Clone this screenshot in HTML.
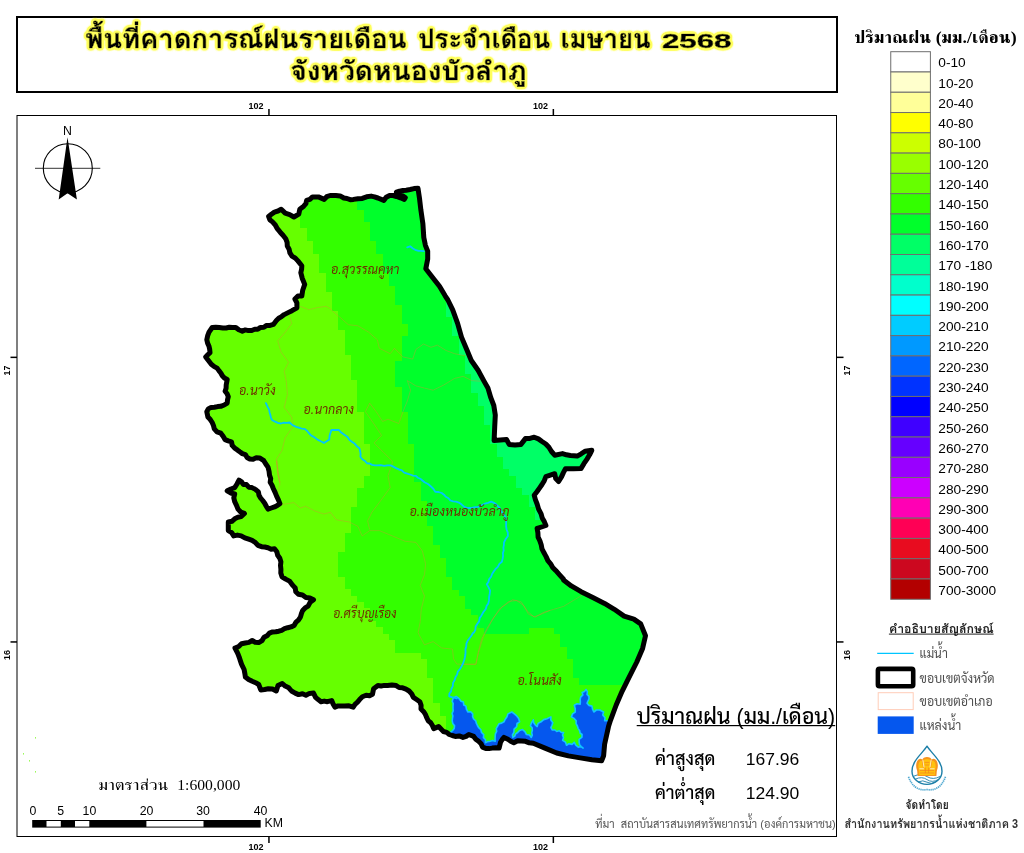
<!DOCTYPE html>
<html lang="th"><head><meta charset="utf-8"><title>พื้นที่คาดการณ์ฝนรายเดือน จังหวัดหนองบัวลำภู</title>
<style>
html,body{margin:0;padding:0;background:#fff}
body{width:1024px;height:853px;overflow:hidden;position:relative}
svg{position:absolute;left:0;top:0;display:block}
text{white-space:pre}
.a{font-family:"Liberation Sans", "Loma", "Noto Sans Thai Looped", sans-serif}
.l{font-family:"Liberation Sans", "Sarabun", "Noto Sans Thai", sans-serif}
.s{font-family:"Liberation Serif", "FreeSerif", "Noto Serif Thai", serif}
.ttl{font-weight:bold;font-size:25.8px;fill:#000;stroke:#000;stroke-width:.55px;stroke-linejoin:round;filter:url(#glow)}
.lg{font-size:13.7px;fill:#000}
.tk{font-size:9px;font-weight:bold;fill:#000}
.d{font-style:italic;font-weight:400;font-size:12.8px;fill:#6e2c00}
</style></head><body>
<svg width="1024" height="853" viewBox="0 0 1024 853">
<rect width="1024" height="853" fill="#fff"/>
<defs><filter id="glow" x="-5%" y="-40%" width="110%" height="180%"><feGaussianBlur in="SourceAlpha" stdDeviation="1.5" result="d"/><feComponentTransfer in="d" result="b"><feFuncA type="linear" slope="14" intercept="0"/></feComponentTransfer><feFlood flood-color="#FFFF5C" result="c"/><feComposite in="c" in2="b" operator="in" result="g"/><feMerge><feMergeNode in="g"/><feMergeNode in="SourceGraphic"/></feMerge></filter></defs>
<rect x="17" y="17" width="820" height="75" fill="#fff" stroke="#000" stroke-width="2"/>
<text class="a ttl" y="48.3"><tspan x="85.3" textLength="321.2" lengthAdjust="spacingAndGlyphs">พื้นที่คาดการณ์ฝนรายเดือน</tspan> <tspan x="418.3" textLength="131.8" lengthAdjust="spacingAndGlyphs">ประจำเดือน</tspan> <tspan x="560.7" textLength="90" lengthAdjust="spacingAndGlyphs">เมษายน</tspan> <tspan x="662" style="font-size:20.4px" textLength="69.4" lengthAdjust="spacingAndGlyphs">2568</tspan></text>
<text class="a ttl" x="290.2" y="80.2" textLength="236.4" lengthAdjust="spacingAndGlyphs">จังหวัดหนองบัวลำภู</text>
<rect x="17" y="115.5" width="819.5" height="721" fill="#fff" stroke="#000" stroke-width="1"/>
<rect x="268.2" y="109" width="1.5" height="6.5" fill="#000"/>
<rect x="268.2" y="836.5" width="1.5" height="6.5" fill="#000"/>
<text class="a tk" x="248.6" y="108.5">102</text>
<text class="a tk" x="248.6" y="850.2">102</text>
<rect x="552.6" y="109" width="1.5" height="6.5" fill="#000"/>
<rect x="552.6" y="836.5" width="1.5" height="6.5" fill="#000"/>
<text class="a tk" x="533.0" y="108.5">102</text>
<text class="a tk" x="533.0" y="850.2">102</text>
<rect x="10.5" y="356.6" width="6.5" height="1.5" fill="#000"/>
<rect x="836.5" y="356.6" width="7" height="1.5" fill="#000"/>
<text class="a tk" transform="translate(10 375.4) rotate(-90)">17</text>
<text class="a tk" transform="translate(850 375.4) rotate(-90)">17</text>
<rect x="10.5" y="641.2" width="6.5" height="1.5" fill="#000"/>
<rect x="836.5" y="641.2" width="7" height="1.5" fill="#000"/>
<text class="a tk" transform="translate(10 660.0) rotate(-90)">16</text>
<text class="a tk" transform="translate(850 660.0) rotate(-90)">16</text>
<defs><clipPath id="prov"><path d="M257.8 329.3L266.6 325.4L273.4 324.4L276.4 320.5L284.2 314.6L292.0 310.7L296.9 307.8L296.9 302.9L294.9 299.0L297.9 296.1L301.8 296.1L302.7 290.2L304.7 284.4L302.3 278.5L300.8 272.7L301.8 265.8L297.9 260.9L292.0 256.1L289.1 249.2L287.1 242.4L283.2 235.5L277.3 228.7L272.5 221.9L268.6 216.4L274.4 212.1L281.2 209.2L285.2 213.1L293.9 217.0L298.8 214.1L299.8 209.2L303.7 206.2L306.6 200.4L312.5 196.9L318.4 196.9L324.2 199.4L330.1 195.5L335.9 195.5L343.8 198.0L353.5 199.4L362.3 198.4L371.1 196.1L377.9 198.0L383.8 200.4L389.6 195.5L396.5 196.5L404.3 199.4L405.3 197.5L396.5 192.2L406.2 190.2L418.0 188.3L419.5 198.4L420.9 210.2L422.9 223.8L423.8 237.5L425.4 245.3L427.7 251.2L427.7 259.0L425.8 268.8L432.6 277.5L439.5 286.3L445.3 296.1L447.9 300.0L452.7 309.8L457.6 323.4L461.5 337.1L466.4 348.8L471.3 360.5L478.1 370.3L484.0 381.1L487.9 387.9L490.8 397.7L493.8 405.5L495.3 415.2L494.7 427.0L494.1 440.6L506.5 439.5L509.2 444.4L520.9 444.4L525.4 438.6L534.2 437.2L542.0 441.5L548.9 447.3L554.7 455.2L562.5 453.6L570.4 455.5L577.2 456.1L585.0 451.2L591.8 450.3L587.0 459.1L581.1 468.4L573.3 468.8L565.5 468.8L561.6 476.6L558.6 481.5L555.7 478.6L554.7 473.7L545.9 476.6L542.0 484.5L534.2 495.2L537.1 504.0L541.1 513.8L545.9 525.5L537.1 528.4L538.1 537.2L542.0 548.9L547.9 560.6L555.7 570.4L563.5 579.2L563.5 580.0L571.3 585.9L581.1 591.7L592.8 597.6L604.5 603.4L614.3 609.3L624.1 616.1L633.8 619.1L640.7 623.9L645.5 635.7L642.6 648.4L636.8 662.0L628.9 677.7L622.1 691.3L616.2 705.0L610.4 720.6L608.5 726.6L604.6 744.2L603.6 755.9L601.6 760.8L591.9 759.8L580.2 757.9L568.4 755.9L556.7 753.0L545.0 748.1L533.3 743.2L525.5 741.3L517.7 740.7L513.8 742.7L507.9 739.3L504.0 737.4L500.5 742.3L499.1 748.1L492.3 748.1L482.5 747.1L478.6 741.3L473.7 736.4L468.8 734.5L463.0 737.4L455.2 736.4L449.3 734.5L443.4 731.5L438.6 726.6L433.7 728.6L430.7 722.7L426.8 717.9L423.9 712.0L421.0 709.1L419.8 701.7L413.4 697.4L409.1 691.0L402.6 687.8L396.2 685.6L387.6 685.6L377.9 685.6L373.6 688.8L372.5 694.2L366.1 695.3L359.6 699.6L353.2 707.1L344.6 706.0L334.9 707.1L331.7 700.6L327.4 701.7L321.0 701.7L315.6 697.4L313.5 693.1L305.9 695.3L295.2 693.1L288.8 687.8L282.3 683.5L278.0 685.6L276.3 691.0L268.3 688.8L260.8 689.9L258.7 684.5L252.2 681.3L245.4 677.0L244.1 669.5L240.4 660.9L237.2 652.3L235.0 648.0L241.5 643.7L252.2 640.5L258.7 642.6L264.0 637.3L272.6 631.9L284.5 628.7L294.1 625.4L298.4 620.1L302.7 610.4L308.1 606.1L313.5 599.7L305.9 597.5L298.4 594.3L292.8 585.4L289.5 581.1L282.0 576.8L280.9 569.2L280.9 561.7L277.7 555.3L274.5 548.8L268.0 547.8L261.6 546.7L255.2 542.4L248.7 539.2L241.2 535.9L233.7 535.9L228.3 530.6L228.3 522.0L234.7 518.8L241.2 516.6L244.4 513.4L238.0 509.1L234.7 501.6L234.7 494.0L227.2 490.8L234.7 487.6L239.0 480.1L243.3 484.4L251.9 487.6L258.4 491.9L262.7 500.5L268.0 509.1L274.5 506.9L279.9 503.7L276.6 496.2L273.4 488.7L270.2 482.2L269.1 471.5L268.0 467.2L263.8 460.7L259.5 457.9L249.8 459.0L242.3 453.6L234.7 448.2L231.5 441.8L225.1 439.6L220.8 433.2L214.3 428.9L212.2 422.5L207.9 417.1L206.8 411.7L211.1 407.4L220.8 406.3L227.2 403.1L228.3 396.7L225.1 391.3L226.2 384.9L227.2 379.5L220.8 373.0L214.3 366.6L209.0 361.2L205.7 356.9L210.0 352.6L209.0 346.2L206.8 339.7L209.0 332.2L212.2 327.5L222.9 327.9L235.8 327.5L242.3 331.2Z"/></clipPath></defs>
<g clip-path="url(#prov)" shape-rendering="crispEdges">
<rect x="190" y="170" width="480" height="610" fill="#33FF00"/>
<path fill="#66FF00" d="M199.1 171.3H300.4V178.0H199.1ZM199.1 177.7H300.4V184.3H199.1ZM199.1 184.0H300.4V190.6H199.1ZM199.1 190.3H300.4V197.0H199.1ZM199.1 196.7H300.4V203.3H199.1ZM199.1 203.0H300.4V209.6H199.1ZM199.1 209.3H300.4V216.0H199.1ZM199.1 215.7H300.4V222.3H199.1ZM199.1 222.0H300.4V228.6H199.1ZM199.1 228.3H306.8V235.0H199.1ZM199.1 234.7H306.8V241.3H199.1ZM199.1 241.0H313.1V247.6H199.1ZM199.1 247.3H313.1V254.0H199.1ZM199.1 253.7H319.4V260.3H199.1ZM199.1 260.0H319.4V266.6H199.1ZM199.1 266.3H319.4V273.0H199.1ZM199.1 272.7H325.8V279.3H199.1ZM199.1 279.0H325.8V285.6H199.1ZM199.1 285.3H325.8V292.0H199.1ZM199.1 291.7H332.1V298.3H199.1ZM199.1 298.0H332.1V304.6H199.1ZM199.1 304.3H332.1V311.0H199.1ZM199.1 310.7H338.4V317.3H199.1ZM199.1 317.0H338.4V323.6H199.1ZM199.1 323.3H338.4V330.0H199.1ZM199.1 329.7H344.8V336.3H199.1ZM199.1 336.0H344.8V342.6H199.1ZM199.1 342.3H344.8V349.0H199.1ZM199.1 348.7H344.8V355.3H199.1ZM199.1 355.0H351.1V361.6H199.1ZM199.1 361.3H351.1V368.0H199.1ZM199.1 367.7H351.1V374.3H199.1ZM199.1 374.0H351.1V380.6H199.1ZM199.1 380.3H357.4V387.0H199.1ZM199.1 386.7H357.4V393.3H199.1ZM199.1 393.0H357.4V399.6H199.1ZM199.1 399.3H357.4V406.0H199.1ZM199.1 405.7H357.4V412.3H199.1ZM199.1 412.0H363.8V418.6H199.1ZM199.1 418.3H363.8V425.0H199.1ZM199.1 424.7H363.8V431.3H199.1ZM199.1 431.0H363.8V437.6H199.1ZM199.1 437.3H363.8V444.0H199.1ZM199.1 443.7H370.1V450.3H199.1ZM199.1 450.0H370.1V456.6H199.1ZM199.1 456.3H370.1V463.0H199.1ZM199.1 462.7H370.1V469.3H199.1ZM199.1 469.0H370.1V475.6H199.1ZM199.1 475.3H363.8V482.0H199.1ZM199.1 481.7H363.8V488.3H199.1ZM199.1 488.0H357.4V494.7H199.1ZM199.1 494.4H357.4V501.0H199.1ZM199.1 500.7H357.4V507.3H199.1ZM199.1 507.0H351.1V513.7H199.1ZM199.1 513.4H351.1V520.0H199.1ZM199.1 519.7H351.1V526.3H199.1ZM199.1 526.0H351.1V532.7H199.1ZM199.1 532.4H344.8V539.0H199.1ZM199.1 538.7H344.8V545.3H199.1ZM199.1 545.0H344.8V551.7H199.1ZM199.1 551.4H338.4V558.0H199.1ZM199.1 557.7H338.4V564.3H199.1ZM199.1 564.0H338.4V570.7H199.1ZM199.1 570.4H338.4V577.0H199.1ZM199.1 576.7H344.8V583.3H199.1ZM199.1 583.0H344.8V589.7H199.1ZM199.1 589.4H351.1V596.0H199.1ZM199.1 595.7H357.4V602.3H199.1ZM199.1 602.0H363.8V608.7H199.1ZM199.1 608.4H370.1V615.0H199.1ZM199.1 614.7H370.1V621.3H199.1ZM199.1 621.0H376.4V627.7H199.1ZM199.1 627.4H382.8V634.0H199.1ZM199.1 633.7H389.1V640.3H199.1ZM199.1 640.0H395.4V646.7H199.1ZM199.1 646.4H395.4V653.0H199.1ZM199.1 652.7H420.8V659.3H199.1ZM199.1 659.0H427.1V665.7H199.1ZM199.1 665.4H427.1V672.0H199.1ZM199.1 671.7H427.1V678.3H199.1ZM199.1 678.0H433.4V684.7H199.1ZM199.1 684.4H433.4V691.0H199.1ZM199.1 690.7H433.4V697.3H199.1ZM199.1 697.0H433.4V703.7H199.1ZM199.1 703.4H439.8V710.0H199.1ZM199.1 709.7H439.8V716.3H199.1ZM199.1 716.0H446.1V722.7H199.1ZM199.1 722.4H446.1V729.0H199.1ZM199.1 728.7H446.1V735.3H199.1ZM199.1 735.0H446.1V741.7H199.1ZM199.1 741.4H446.1V748.0H199.1ZM199.1 747.7H446.1V754.3H199.1ZM199.1 754.0H446.1V760.7H199.1ZM199.1 760.4H446.1V767.0H199.1ZM199.1 766.7H446.1V773.3H199.1Z"/>
<path fill="#00FF2B" d="M357.4 171.3H661.5V178.0H357.4ZM357.4 177.7H661.5V184.3H357.4ZM357.4 184.0H661.5V190.6H357.4ZM357.4 190.3H661.5V197.0H357.4ZM357.4 196.7H661.5V203.3H357.4ZM357.4 203.0H661.5V209.6H357.4ZM363.8 209.3H661.5V216.0H363.8ZM363.8 215.7H661.5V222.3H363.8ZM370.1 222.0H661.5V228.6H370.1ZM370.1 228.3H661.5V235.0H370.1ZM370.1 234.7H661.5V241.3H370.1ZM376.4 241.0H661.5V247.6H376.4ZM376.4 247.3H661.5V254.0H376.4ZM382.8 253.7H661.5V260.3H382.8ZM382.8 260.0H661.5V266.6H382.8ZM382.8 266.3H661.5V273.0H382.8ZM389.1 272.7H661.5V279.3H389.1ZM389.1 279.0H661.5V285.6H389.1ZM395.4 285.3H661.5V292.0H395.4ZM395.4 291.7H661.5V298.3H395.4ZM395.4 298.0H446.1V304.6H395.4ZM401.8 304.3H446.1V311.0H401.8ZM401.8 310.7H446.1V317.3H401.8ZM401.8 317.0H452.4V323.6H401.8ZM408.1 323.3H452.4V330.0H408.1ZM408.1 329.7H452.4V336.3H408.1ZM401.8 336.0H458.8V342.6H401.8ZM401.8 342.3H458.8V349.0H401.8ZM401.8 348.7H458.8V355.3H401.8ZM401.8 355.0H465.1V361.6H401.8ZM395.4 361.3H465.1V368.0H395.4ZM395.4 367.7H465.1V374.3H395.4ZM395.4 374.0H471.4V380.6H395.4ZM395.4 380.3H471.4V387.0H395.4ZM401.8 386.7H471.4V393.3H401.8ZM401.8 393.0H477.8V399.6H401.8ZM401.8 399.3H477.8V406.0H401.8ZM401.8 405.7H484.1V412.3H401.8ZM408.1 412.0H484.1V418.6H408.1ZM408.1 418.3H484.1V425.0H408.1ZM408.1 424.7H490.4V431.3H408.1ZM408.1 431.0H490.4V437.6H408.1ZM408.1 437.3H490.4V444.0H408.1ZM414.4 443.7H496.8V450.3H414.4ZM414.4 450.0H496.8V456.6H414.4ZM414.4 456.3H503.1V463.0H414.4ZM414.4 462.7H503.1V469.3H414.4ZM414.4 469.0H509.4V475.6H414.4ZM414.4 475.3H515.8V482.0H414.4ZM420.8 481.7H515.8V488.3H420.8ZM420.8 488.0H522.1V494.7H420.8ZM420.8 494.4H528.5V501.0H420.8ZM427.1 500.7H528.5V507.3H427.1ZM427.1 507.0H534.8V513.7H427.1ZM427.1 513.4H534.8V520.0H427.1ZM427.1 519.7H661.5V526.3H427.1ZM433.4 526.0H661.5V532.7H433.4ZM433.4 532.4H661.5V539.0H433.4ZM433.4 538.7H661.5V545.3H433.4ZM439.8 545.0H661.5V551.7H439.8ZM439.8 551.4H661.5V558.0H439.8ZM446.1 557.7H661.5V564.3H446.1ZM446.1 564.0H661.5V570.7H446.1ZM446.1 570.4H661.5V577.0H446.1ZM452.4 576.7H661.5V583.3H452.4ZM452.4 583.0H661.5V589.7H452.4ZM458.8 589.4H661.5V596.0H458.8ZM465.1 595.7H661.5V602.3H465.1ZM465.1 602.0H661.5V608.7H465.1ZM471.4 608.4H661.5V615.0H471.4ZM477.8 614.7H661.5V621.3H477.8ZM477.8 621.0H661.5V627.7H477.8ZM484.1 627.4H528.5V634.0H484.1ZM553.8 627.4H661.5V634.0H553.8ZM560.1 633.7H661.5V640.3H560.1ZM560.1 640.0H661.5V646.7H560.1ZM566.5 646.4H661.5V653.0H566.5ZM566.5 652.7H661.5V659.3H566.5ZM572.8 659.0H661.5V665.7H572.8ZM572.8 665.4H661.5V672.0H572.8ZM572.8 671.7H661.5V678.3H572.8ZM579.1 678.0H661.5V684.7H579.1Z"/>
<path fill="#00FF66" d="M446.1 298.0H661.5V304.6H446.1ZM446.1 304.3H661.5V311.0H446.1ZM446.1 310.7H661.5V317.3H446.1ZM452.4 317.0H661.5V323.6H452.4ZM452.4 323.3H661.5V330.0H452.4ZM452.4 329.7H661.5V336.3H452.4ZM458.8 336.0H661.5V342.6H458.8ZM458.8 342.3H661.5V349.0H458.8ZM458.8 348.7H661.5V355.3H458.8ZM465.1 355.0H661.5V361.6H465.1ZM465.1 361.3H661.5V368.0H465.1ZM465.1 367.7H661.5V374.3H465.1ZM471.4 374.0H661.5V380.6H471.4ZM471.4 380.3H661.5V387.0H471.4ZM471.4 386.7H661.5V393.3H471.4ZM477.8 393.0H661.5V399.6H477.8ZM477.8 399.3H661.5V406.0H477.8ZM484.1 405.7H661.5V412.3H484.1ZM484.1 412.0H661.5V418.6H484.1ZM484.1 418.3H661.5V425.0H484.1ZM490.4 424.7H661.5V431.3H490.4ZM490.4 431.0H661.5V437.6H490.4ZM490.4 437.3H661.5V444.0H490.4ZM496.8 443.7H661.5V450.3H496.8ZM496.8 450.0H661.5V456.6H496.8ZM503.1 456.3H661.5V463.0H503.1ZM503.1 462.7H661.5V469.3H503.1ZM509.4 469.0H661.5V475.6H509.4ZM515.8 475.3H661.5V482.0H515.8ZM515.8 481.7H661.5V488.3H515.8ZM522.1 488.0H661.5V494.7H522.1ZM528.5 494.4H661.5V501.0H528.5ZM528.5 500.7H661.5V507.3H528.5ZM534.8 507.0H661.5V513.7H534.8ZM534.8 513.4H661.5V520.0H534.8Z"/>
</g>
<g clip-path="url(#prov)">
<path fill="none" stroke="#d98a3a" stroke-opacity=".55" stroke-width=".7" d="M289.5 316.1L291.7 323.6L285.2 332.2L277.7 340.8L280.9 351.6L288.5 362.3L284.2 370.9L286.3 381.6L287.4 394.5L284.2 407.4L291.7 417.1L292.8 426.8L285.2 437.5L282.0 450.4L276.6 459.0L277.7 471.9L279.9 482.6L276.6 460.7L277.7 473.6L279.9 484.4L277.7 493.0L280.9 503.7M300.3 306.4L308.9 309.7L317.5 307.5L326.1 306.4L330.0 308.6L338.6 316.1L348.3 324.7L357.9 325.8L368.7 332.2L377.3 339.7L379.4 348.3L390.2 353.7L394.5 348.3L403.0 356.9L412.7 359.1L415.9 349.4L423.5 344.0L431.0 347.3L437.4 345.1L446.0 350.5L454.6 353.7L465.4 355.9M407.3 380.6L415.9 385.9L424.5 388.1L433.1 390.2L443.9 384.9L454.6 378.4L463.2 376.3L471.8 380.6L480.4 381.2M407.3 380.6L410.6 390.2L407.3 401.0L403.0 411.7L398.8 423.5L388.0 419.2L382.6 421.4L376.2 411.7L369.7 403.1L365.4 411.7L373.0 422.5L381.6 435.4L374.0 442.9L383.7 452.5L392.3 461.1L392.3 462.9L388.0 475.8L390.2 487.6L381.6 499.4L371.9 512.3L367.6 520.9L369.7 529.5M280.9 504.8L293.8 502.6L300.3 508.0L305.6 506.3L315.3 511.2L323.9 514.0L330.4 512.3L336.4 519.8L349.3 522.0L357.9 526.3L362.2 535.9L369.7 530.6L379.4 530.6L392.3 535.9L405.2 541.3L415.9 542.4L422.4 551.0L425.6 563.9L424.5 574.6L420.2 585.4L424.5 596.1L421.3 609.0L420.2 621.9L418.1 632.6L419.2 635.1L424.5 644.8L433.1 641.6L441.7 648.0L452.5 649.1L453.5 658.8L456.8 664.1L476.1 664.1L478.2 652.3L481.5 639.4L486.8 628.7L493.3 617.9L501.9 607.2L512.6 599.7L521.2 601.8L527.7 611.5L534.1 616.9L542.7 613.6L550.0 610.4M460.0 664.4L475.6 664.4L478.6 652.3L483.4 636.6L491.2 622.0L499.1 609.3L508.8 601.5L516.6 600.5L523.5 605.4L528.4 614.2L535.2 617.1L544.0 612.2L553.8 609.3L563.5 606.4L573.3 600.5L582.1 595.2"/>
<path d="M449.3 734.1L450.8 732.2L452.7 730.5L454.2 728.6L454.6 725.7L452.8 723.4L452.2 720.8L452.5 718.4L452.9 715.9L452.1 713.4L453.2 711.0L453.0 708.5L453.0 706.1L453.2 703.6L452.2 701.2L453.3 698.1L456.1 696.4L458.9 698.4L461.0 701.2L463.4 702.1L463.7 705.0L465.9 706.1L466.4 709.2L467.9 712.0L470.7 711.8L472.7 713.9L472.6 716.7L473.6 719.0L475.7 720.8L476.3 723.2L477.4 725.5L478.6 727.6L480.8 729.6L481.5 732.5L483.7 734.6L483.4 737.6L485.5 739.7L485.4 742.7L487.7 741.6L490.2 741.3L492.6 740.4L495.2 741.3L495.1 738.8L495.2 736.4L495.4 733.8L496.7 731.3L496.2 728.6L497.7 726.2L499.1 723.7L501.7 723.1L504.0 721.8L505.3 719.2L507.0 716.7L507.9 713.9L511.8 712.0L514.3 713.9L516.7 715.9L518.7 718.6L519.6 721.8L517.0 723.5L516.7 726.6L514.1 729.0L513.8 732.5L512.4 734.8L512.8 737.4L514.8 736.1L515.7 733.8L517.7 732.5L519.7 730.4L522.5 729.6L524.9 731.7L526.4 734.5L529.4 735.0L531.3 737.4L532.3 735.2L531.7 732.8L532.3 730.5L532.2 727.8L530.4 725.7L531.6 722.6L533.3 719.8L533.6 722.7L535.1 724.8L537.2 726.6L538.1 723.4L541.1 721.8L543.7 719.6L547.0 718.8L550.9 716.9L550.8 720.1L552.8 722.7L551.9 725.2L550.9 727.6L552.1 729.9L554.9 730.0L556.7 731.5L559.2 730.7L561.3 732.5L563.6 732.5L562.5 735.0L563.5 737.8L562.6 740.3L565.4 742.1L566.5 745.2L568.9 743.8L572.1 744.4L574.3 742.3L575.7 745.1L578.2 747.1L580.8 746.6L583.1 748.1L581.3 746.5L579.6 744.8L579.2 742.3L579.1 739.3L581.9 737.4L582.1 734.5L580.1 733.0L579.6 730.5L578.2 728.6L577.4 726.0L576.1 723.6L576.2 720.8L574.2 718.4L571.4 716.9L572.6 713.9L575.3 712.0L575.2 708.5L574.3 705.2L577.1 703.7L580.2 704.2L580.4 701.8L580.2 699.4L580.7 697.1L582.9 695.0L582.1 692.5L584.5 691.6L586.0 689.5L587.4 691.6L587.0 694.5L588.9 696.4L589.0 698.9L587.9 701.0L587.0 703.2L589.0 705.4L591.9 706.1L592.5 709.2L593.8 712.0L596.4 710.0L599.7 710.0L603.6 712.0L602.7 715.1L605.0 717.8L604.6 720.8L607.6 720.7L610.4 721.8L604.6 744.2L603.6 755.9L601.6 760.8L591.9 759.8L580.2 757.9L568.4 755.9L556.7 753.0L545.0 748.1L533.3 743.2L525.5 741.3L517.7 740.7L513.8 742.7L507.9 739.3L504.0 737.4L500.5 742.3L499.1 748.1L492.3 748.1L482.5 747.1L478.6 741.3L473.7 736.4L468.8 734.5L463.0 737.4L455.2 736.4Z" fill="#0557EE" stroke="#12C4FF" stroke-width="1.6" stroke-linejoin="round"/>
<path d="M265.9 403.1L267.4 406.4L269.1 409.6L269.6 412.4L270.4 415.0L271.0 417.8L272.3 420.3L275.1 421.6L277.9 422.9L280.9 423.5L283.7 422.7L286.6 422.8L289.5 422.5L292.5 425.1L296.0 426.8L298.8 427.7L301.6 428.6L304.6 428.9L307.0 430.8L308.9 433.2L311.0 435.4L314.4 437.3L317.5 439.6L320.7 441.3L323.9 442.9L326.6 441.3L329.3 439.6L329.5 436.3L330.4 433.1L331.4 430.0L335.1 429.8L338.9 430.0L340.8 432.2L343.0 433.8L345.4 435.4L347.8 437.3L349.4 439.9L351.8 441.8L354.6 443.6L356.8 446.2L359.4 448.2L360.1 451.0L360.6 453.9L360.4 456.8L362.3 459.3L365.0 460.9L366.9 463.3L369.6 463.5L372.1 464.9L374.8 465.3L377.6 465.4L380.8 465.2L384.1 465.9L387.3 465.4L390.5 465.4L392.3 466.1L395.5 467.9L398.8 469.3L401.8 470.4L404.2 472.6L407.3 473.6L410.1 474.5L412.9 475.6L415.9 475.8L417.8 477.7L420.3 478.8L422.4 480.5L424.5 482.2L428.0 484.0L431.0 486.5L433.5 489.0L435.3 491.9L438.6 492.0L441.7 493.0L444.0 494.7L445.9 496.8L448.5 498.2L450.3 500.5L453.1 501.4L456.1 501.7L458.9 502.6L461.7 504.6L464.3 506.9L466.9 507.8L469.6 508.0L472.5 507.6L475.3 507.1L478.2 506.9L481.4 505.3L484.7 503.7L488.0 502.9L491.1 501.6L494.0 502.8L496.5 504.8L499.7 508.0L501.4 511.5L504.0 514.5L505.6 517.5L506.2 520.9L506.1 523.8L506.1 526.7L506.6 529.5L507.8 532.6L507.9 535.9L505.7 539.0L504.0 542.4L503.9 545.1L503.4 547.7L503.7 550.5L502.9 553.1L503.1 556.0L502.6 558.9L501.9 561.7L499.4 563.9L497.8 566.9L495.4 569.2L493.7 571.6L492.1 574.0L491.1 576.8L489.2 579.1L488.4 581.9L486.8 584.3L488.6 587.4L490.1 590.7L489.7 593.9L489.1 597.1L489.0 600.4L488.3 603.4L486.6 606.0L485.8 609.0L483.4 612.0L481.5 615.4L479.7 618.1L479.1 621.4L477.2 624.0L475.6 626.7L475.4 629.9L473.9 632.6L472.9 633.0L471.4 635.8L469.5 638.3L467.6 640.8L466.4 643.7L466.3 646.4L465.4 649.1L465.6 651.8L465.4 654.5L464.9 657.4L464.1 660.2L463.2 663.0L461.7 666.1L460.0 669.0L457.8 671.6L457.1 674.6L455.5 677.3L454.6 680.2L453.0 682.9L452.8 686.1L451.4 688.8L451.1 691.4L449.4 693.6L449.2 696.3L451.7 697.1L454.3 697.7L456.8 698.5M407.2 247.3L410.2 246.3L412.9 248.5L416.0 250.2L418.6 250.9L421.2 250.9L423.8 251.2" fill="none" stroke="#00C5FF" stroke-width="1.8" stroke-linejoin="round" stroke-linecap="round"/>
</g>
<path d="M257.8 329.3L260.5 327.4L263.9 327.3L266.6 325.4L270.1 325.4L273.4 324.4L276.4 320.5L278.7 318.2L281.6 316.6L284.2 314.6L288.1 312.6L292.0 310.7L296.9 307.8L296.9 302.9L294.9 299.0L297.9 296.1L301.8 296.1L302.7 290.2L304.7 284.4L302.3 278.5L300.8 272.7L301.6 269.3L301.8 265.8L297.9 260.9L295.3 258.1L292.0 256.1L289.9 252.9L289.1 249.2L287.3 246.0L287.1 242.4L285.7 238.7L283.2 235.5L280.2 232.2L277.3 228.7L275.3 225.0L272.5 221.9L269.8 219.7L268.6 216.4L271.4 214.2L274.4 212.1L278.0 211.0L281.2 209.2L285.2 213.1L289.7 214.6L293.9 217.0L298.8 214.1L299.8 209.2L303.7 206.2L305.9 203.7L306.6 200.4L309.9 199.3L312.5 196.9L318.4 196.9L324.2 199.4L326.7 196.7L330.1 195.5L335.9 195.5L340.1 195.9L343.8 198.0L347.0 198.5L350.2 199.7L353.5 199.4L357.9 198.7L362.3 198.4L366.6 196.8L371.1 196.1L374.5 196.9L377.9 198.0L383.8 200.4L386.2 197.3L389.6 195.5L393.1 195.5L396.5 196.5L400.4 197.8L404.3 199.4L405.3 197.5L402.4 195.7L399.2 194.4L396.5 192.2L399.6 191.1L402.9 190.4L406.2 190.2L410.1 189.5L414.0 188.6L418.0 188.3L419.5 198.4L420.9 210.2L422.9 223.8L423.8 237.5L425.4 245.3L427.7 251.2L427.7 259.0L425.8 268.8L432.6 277.5L439.5 286.3L445.3 296.1L447.9 300.0L452.7 309.8L457.6 323.4L461.5 337.1L466.4 348.8L471.3 360.5L478.1 370.3L484.0 381.1L487.9 387.9L490.8 397.7L493.8 405.5L495.3 415.2L494.7 427.0L494.1 440.6L506.5 439.5L509.2 444.4L515.0 444.9L520.9 444.4L525.4 438.6L529.9 438.4L534.2 437.2L538.4 438.9L542.0 441.5L545.8 444.0L548.9 447.3L551.5 451.5L554.7 455.2L562.5 453.6L566.4 454.8L570.4 455.5L577.2 456.1L581.2 453.8L585.0 451.2L591.8 450.3L589.6 454.8L587.0 459.1L583.9 463.7L581.1 468.4L573.3 468.8L565.5 468.8L563.4 472.6L561.6 476.6L558.6 481.5L555.7 478.6L554.7 473.7L550.3 475.1L545.9 476.6L544.3 480.7L542.0 484.5L539.5 488.1L536.9 491.7L534.2 495.2L535.4 499.7L537.1 504.0L538.6 509.1L541.1 513.8L542.2 517.9L544.3 521.6L545.9 525.5L541.5 527.0L537.1 528.4L537.9 532.8L538.1 537.2L539.9 540.9L541.2 544.8L542.0 548.9L544.0 552.8L546.1 556.6L547.9 560.6L550.6 563.8L552.7 567.4L555.7 570.4L559.6 574.8L563.5 579.2L563.5 580.0L571.3 585.9L581.1 591.7L592.8 597.6L604.5 603.4L614.3 609.3L624.1 616.1L633.8 619.1L640.7 623.9L645.5 635.7L642.6 648.4L636.8 662.0L628.9 677.7L622.1 691.3L616.2 705.0L610.4 720.6L608.5 726.6L604.6 744.2L603.6 755.9L601.6 760.8L591.9 759.8L580.2 757.9L568.4 755.9L556.7 753.0L545.0 748.1L533.3 743.2L529.3 742.8L525.5 741.3L521.6 740.9L517.7 740.7L513.8 742.7L510.7 741.2L507.9 739.3L504.0 737.4L502.1 739.7L500.5 742.3L499.1 748.1L495.7 747.8L492.3 748.1L488.9 748.6L485.7 748.4L482.5 747.1L481.1 743.8L478.6 741.3L475.8 739.2L473.7 736.4L468.8 734.5L466.1 736.4L463.0 737.4L459.2 735.9L455.2 736.4L452.2 735.5L449.3 734.5L446.7 732.4L443.4 731.5L441.0 729.1L438.6 726.6L433.7 728.6L432.4 725.5L430.7 722.7L428.2 720.7L426.8 717.9L425.6 714.8L423.9 712.0L421.0 709.1L421.1 705.3L419.8 701.7L416.6 699.5L413.4 697.4L411.7 693.9L409.1 691.0L406.0 689.1L402.6 687.8L399.1 687.5L396.2 685.6L391.9 685.1L387.6 685.6L384.4 685.4L381.1 686.0L377.9 685.6L373.6 688.8L372.5 694.2L369.5 695.7L366.1 695.3L362.4 696.8L359.6 699.6L357.5 702.1L355.0 704.3L353.2 707.1L349.0 705.8L344.6 706.0L341.3 705.9L338.0 705.9L334.9 707.1L333.1 703.9L331.7 700.6L327.4 701.7L324.2 701.1L321.0 701.7L318.2 699.6L315.6 697.4L313.5 693.1L309.5 693.4L305.9 695.3L302.5 693.8L298.6 694.6L295.2 693.1L291.5 691.0L288.8 687.8L285.2 686.1L282.3 683.5L278.0 685.6L276.3 691.0L272.5 689.0L268.3 688.8L264.6 689.5L260.8 689.9L258.7 684.5L255.6 682.7L252.2 681.3L248.6 679.5L245.4 677.0L244.8 673.2L244.1 669.5L242.7 666.7L241.4 663.9L240.4 660.9L239.5 658.0L238.4 655.1L237.2 652.3L235.0 648.0L238.7 646.5L241.5 643.7L245.2 643.0L248.9 642.4L252.2 640.5L255.2 642.2L258.7 642.6L262.0 640.6L264.0 637.3L267.0 635.8L269.4 633.1L272.6 631.9L275.8 631.8L278.8 631.2L281.7 630.3L284.5 628.7L287.7 627.7L291.0 626.9L294.1 625.4L295.8 622.4L298.4 620.1L300.4 617.1L301.4 613.7L302.7 610.4L305.1 607.9L308.1 606.1L310.1 602.3L313.5 599.7L309.9 597.9L305.9 597.5L302.5 595.0L298.4 594.3L295.8 591.8L295.2 588.0L292.8 585.4L289.5 581.1L285.7 579.1L282.0 576.8L280.8 573.1L280.9 569.2L280.5 565.5L280.9 561.7L279.8 558.3L277.7 555.3L276.8 551.7L274.5 548.8L271.1 549.2L268.0 547.8L264.8 547.0L261.6 546.7L257.9 545.3L255.2 542.4L252.1 540.4L248.7 539.2L244.8 537.9L241.2 535.9L237.4 535.1L233.7 535.9L231.7 532.6L228.3 530.6L228.3 526.3L228.3 522.0L231.9 521.3L234.7 518.8L237.8 517.3L241.2 516.6L244.4 513.4L240.7 512.0L238.0 509.1L236.5 505.3L234.7 501.6L233.8 497.8L234.7 494.0L230.7 493.0L227.2 490.8L230.9 489.0L234.7 487.6L237.0 484.0L239.0 480.1L241.6 481.8L243.3 484.4L246.5 484.6L248.8 487.2L251.9 487.6L255.4 489.4L258.4 491.9L259.0 495.2L260.6 498.0L262.7 500.5L264.7 503.2L266.3 506.2L268.0 509.1L271.3 508.0L274.5 506.9L277.3 505.5L279.9 503.7L278.4 499.9L276.6 496.2L275.1 492.4L273.4 488.7L272.0 485.3L270.2 482.2L270.7 478.5L269.5 475.1L269.1 471.5L268.0 467.2L265.8 464.0L263.8 460.7L259.5 457.9L256.2 457.8L253.1 459.2L249.8 459.0L247.1 457.5L245.4 454.6L242.3 453.6L239.8 451.8L237.3 449.9L234.7 448.2L232.2 445.4L231.5 441.8L228.2 440.9L225.1 439.6L223.1 436.3L220.8 433.2L217.0 431.9L214.3 428.9L213.5 425.6L212.2 422.5L210.3 419.6L207.9 417.1L206.8 411.7L208.3 408.9L211.1 407.4L214.4 407.3L217.6 406.6L220.8 406.3L224.2 405.0L227.2 403.1L227.5 399.9L228.3 396.7L227.1 393.8L225.1 391.3L226.1 388.2L226.2 384.9L227.2 379.5L224.4 378.0L222.3 375.8L220.8 373.0L218.9 370.6L217.1 368.1L214.3 366.6L211.3 364.2L209.0 361.2L205.7 356.9L207.8 354.7L210.0 352.6L209.7 349.4L209.0 346.2L207.6 343.1L206.8 339.7L207.6 335.9L209.0 332.2L212.2 327.5L215.8 327.3L219.3 327.5L222.9 327.9L226.1 328.0L229.3 327.3L232.6 327.4L235.8 327.5L238.8 329.8L242.3 331.2L245.3 329.9L248.5 330.6L251.7 330.5L254.7 329.3Z" fill="none" stroke="#000" stroke-width="5" stroke-linejoin="round"/>
<text class="l d" x="331.0" y="273.6" textLength="68.4" lengthAdjust="spacingAndGlyphs">อ.สุวรรณคูหา</text>
<text class="l d" x="239.0" y="394.5" textLength="36.6" lengthAdjust="spacingAndGlyphs">อ.นาวัง</text>
<text class="l d" x="303.5" y="413.9" textLength="50.5" lengthAdjust="spacingAndGlyphs">อ.นากลาง</text>
<text class="l d" x="409.5" y="516.2" textLength="100.0" lengthAdjust="spacingAndGlyphs">อ.เมืองหนองบัวลำภู</text>
<text class="l d" x="333.2" y="617.9" textLength="63.4" lengthAdjust="spacingAndGlyphs">อ.ศรีบุญเรือง</text>
<text class="l d" x="517.6" y="684.5" textLength="44.0" lengthAdjust="spacingAndGlyphs">อ.โนนสัง</text>
<circle cx="67.8" cy="168.3" r="24.5" fill="none" stroke="#000" stroke-width="1.1"/>
<path d="M35 168.3H100.3" stroke="#000" stroke-width=".8"/>
<path d="M67.5 137.3L76.9 199.5L67.5 193.3L58.7 199.6Z" fill="#000"/>
<text class="a" x="67.4" y="135.2" font-size="12.3" text-anchor="middle">N</text>
<text class="s" x="98.2" y="789.5" font-size="15" textLength="70.3" lengthAdjust="spacingAndGlyphs">มาตราส่วน</text>
<text class="s" x="177.3" y="789.5" font-size="15" textLength="63" lengthAdjust="spacingAndGlyphs">1:600,000</text>
<rect x="35" y="737" width="1" height="1.6" fill="#9CFA5A"/>
<rect x="23" y="753" width="1" height="1.6" fill="#9CFA5A"/>
<rect x="29" y="760" width="1" height="1.6" fill="#9CFA5A"/>
<rect x="35" y="771" width="1" height="1.6" fill="#9CFA5A"/>
<rect x="32.2" y="820" width="228.5" height="7.6" fill="#000"/>
<rect x="46.5" y="821" width="14.3" height="5.6" fill="#fff"/>
<rect x="75.0" y="821" width="14.3" height="5.6" fill="#fff"/>
<rect x="146.4" y="821" width="57.1" height="5.6" fill="#fff"/>
<text class="a" x="33.0" y="814.5" font-size="12.3" text-anchor="middle">0</text>
<text class="a" x="60.6" y="814.5" font-size="12.3" text-anchor="middle">5</text>
<text class="a" x="89.4" y="814.5" font-size="12.3" text-anchor="middle">10</text>
<text class="a" x="146.5" y="814.5" font-size="12.3" text-anchor="middle">20</text>
<text class="a" x="203.0" y="814.5" font-size="12.3" text-anchor="middle">30</text>
<text class="a" x="260.5" y="814.5" font-size="12.3" text-anchor="middle">40</text>
<text class="a" x="264.6" y="827.3" font-size="12.3">KM</text>
<text class="l" x="636.7" y="723.7" font-size="22" font-weight="500" textLength="198.5" lengthAdjust="spacingAndGlyphs">ปริมาณฝน (มม./เดือน)</text>
<rect x="636.7" y="725" width="198.5" height="1.2" fill="#000"/>
<text class="l" x="655" y="765.1" font-size="19" font-weight="500" textLength="60.4" lengthAdjust="spacingAndGlyphs">ค่าสูงสุด</text>
<text class="l" x="745.7" y="765.1" font-size="17.2" textLength="53.6" lengthAdjust="spacingAndGlyphs">167.96</text>
<text class="l" x="655" y="799.4" font-size="19" font-weight="500" textLength="60.4" lengthAdjust="spacingAndGlyphs">ค่าต่ำสุด</text>
<text class="l" x="745.7" y="799.4" font-size="17.2" textLength="53.6" lengthAdjust="spacingAndGlyphs">124.90</text>
<text class="l" x="595.3" y="828.4" font-size="11.3" fill="#555" textLength="240.4" lengthAdjust="spacingAndGlyphs">ที่มา  สถาบันสารสนเทศทรัพยากรน้ำ (องค์การมหาชน)</text>
<text class="s" x="854.3" y="42.8" font-size="17" font-weight="bold" textLength="162.4" lengthAdjust="spacingAndGlyphs">ปริมาณฝน (มม./เดือน)</text>
<rect x="890.75" y="51.70" width="39.65" height="20.28" fill="#FFFFFF" stroke="#6E6E6E" stroke-width="1"/>
<text class="a lg" x="938.3" y="67.2">0-10</text>
<rect x="890.75" y="71.98" width="39.65" height="20.28" fill="#FFFFCC" stroke="#6E6E6E" stroke-width="1"/>
<text class="a lg" x="938.3" y="87.5">10-20</text>
<rect x="890.75" y="92.26" width="39.65" height="20.28" fill="#FFFF99" stroke="#6E6E6E" stroke-width="1"/>
<text class="a lg" x="938.3" y="107.8">20-40</text>
<rect x="890.75" y="112.54" width="39.65" height="20.28" fill="#FFFF00" stroke="#6E6E6E" stroke-width="1"/>
<text class="a lg" x="938.3" y="128.1">40-80</text>
<rect x="890.75" y="132.82" width="39.65" height="20.28" fill="#CCFF00" stroke="#6E6E6E" stroke-width="1"/>
<text class="a lg" x="938.3" y="148.4">80-100</text>
<rect x="890.75" y="153.10" width="39.65" height="20.28" fill="#99FF00" stroke="#6E6E6E" stroke-width="1"/>
<text class="a lg" x="938.3" y="168.7">100-120</text>
<rect x="890.75" y="173.38" width="39.65" height="20.28" fill="#66FF00" stroke="#6E6E6E" stroke-width="1"/>
<text class="a lg" x="938.3" y="189.0">120-140</text>
<rect x="890.75" y="193.66" width="39.65" height="20.28" fill="#33FF00" stroke="#6E6E6E" stroke-width="1"/>
<text class="a lg" x="938.3" y="209.3">140-150</text>
<rect x="890.75" y="213.94" width="39.65" height="20.28" fill="#00FF2B" stroke="#6E6E6E" stroke-width="1"/>
<text class="a lg" x="938.3" y="229.6">150-160</text>
<rect x="890.75" y="234.22" width="39.65" height="20.28" fill="#00FF66" stroke="#6E6E6E" stroke-width="1"/>
<text class="a lg" x="938.3" y="249.9">160-170</text>
<rect x="890.75" y="254.50" width="39.65" height="20.28" fill="#00FF99" stroke="#6E6E6E" stroke-width="1"/>
<text class="a lg" x="938.3" y="270.2">170 -180</text>
<rect x="890.75" y="274.78" width="39.65" height="20.28" fill="#00FFCC" stroke="#6E6E6E" stroke-width="1"/>
<text class="a lg" x="938.3" y="290.5">180-190</text>
<rect x="890.75" y="295.06" width="39.65" height="20.28" fill="#00FFFF" stroke="#6E6E6E" stroke-width="1"/>
<text class="a lg" x="938.3" y="310.8">190-200</text>
<rect x="890.75" y="315.34" width="39.65" height="20.28" fill="#00CCFF" stroke="#6E6E6E" stroke-width="1"/>
<text class="a lg" x="938.3" y="331.1">200-210</text>
<rect x="890.75" y="335.62" width="39.65" height="20.28" fill="#0099FF" stroke="#6E6E6E" stroke-width="1"/>
<text class="a lg" x="938.3" y="351.4">210-220</text>
<rect x="890.75" y="355.90" width="39.65" height="20.28" fill="#0066FF" stroke="#6E6E6E" stroke-width="1"/>
<text class="a lg" x="938.3" y="371.7">220-230</text>
<rect x="890.75" y="376.18" width="39.65" height="20.28" fill="#0033FF" stroke="#6E6E6E" stroke-width="1"/>
<text class="a lg" x="938.3" y="392.0">230-240</text>
<rect x="890.75" y="396.46" width="39.65" height="20.28" fill="#0000FF" stroke="#6E6E6E" stroke-width="1"/>
<text class="a lg" x="938.3" y="412.3">240-250</text>
<rect x="890.75" y="416.74" width="39.65" height="20.28" fill="#3F00FF" stroke="#6E6E6E" stroke-width="1"/>
<text class="a lg" x="938.3" y="432.6">250-260</text>
<rect x="890.75" y="437.02" width="39.65" height="20.28" fill="#6600FF" stroke="#6E6E6E" stroke-width="1"/>
<text class="a lg" x="938.3" y="452.9">260-270</text>
<rect x="890.75" y="457.30" width="39.65" height="20.28" fill="#9900FF" stroke="#6E6E6E" stroke-width="1"/>
<text class="a lg" x="938.3" y="473.2">270-280</text>
<rect x="890.75" y="477.58" width="39.65" height="20.28" fill="#CC00FF" stroke="#6E6E6E" stroke-width="1"/>
<text class="a lg" x="938.3" y="493.5">280-290</text>
<rect x="890.75" y="497.86" width="39.65" height="20.28" fill="#FF00B4" stroke="#6E6E6E" stroke-width="1"/>
<text class="a lg" x="938.3" y="513.8">290-300</text>
<rect x="890.75" y="518.14" width="39.65" height="20.28" fill="#FF0055" stroke="#6E6E6E" stroke-width="1"/>
<text class="a lg" x="938.3" y="534.1">300-400</text>
<rect x="890.75" y="538.42" width="39.65" height="20.28" fill="#E80C1F" stroke="#6E6E6E" stroke-width="1"/>
<text class="a lg" x="938.3" y="554.4">400-500</text>
<rect x="890.75" y="558.70" width="39.65" height="20.28" fill="#CC081F" stroke="#6E6E6E" stroke-width="1"/>
<text class="a lg" x="938.3" y="574.7">500-700</text>
<rect x="890.75" y="578.98" width="39.65" height="20.28" fill="#B30000" stroke="#6E6E6E" stroke-width="1"/>
<text class="a lg" x="938.3" y="595.0">700-3000</text>
<text class="a" x="888.9" y="632.9" font-size="12.3" font-weight="bold" fill="#222" textLength="104.7" lengthAdjust="spacingAndGlyphs">คำอธิบายสัญลักษณ์</text>
<rect x="888.9" y="633.6" width="104.7" height="1" fill="#222"/>
<path d="M877.2 653.4H913.7" stroke="#00C5FF" stroke-width="1.3"/>
<rect x="877.9" y="668.9" width="35.3" height="17.4" rx="1.5" fill="#fff" stroke="#000" stroke-width="4.6" stroke-linejoin="round"/>
<rect x="878.2" y="692.7" width="35" height="16.9" fill="#fff" stroke="#FFCDB8" stroke-width="1"/>
<rect x="877.7" y="716.4" width="36" height="17.5" fill="#0557EE"/>
<text class="l" x="919.6" y="658.4" font-size="13.6" fill="#4d4d4d" textLength="28.2" lengthAdjust="spacingAndGlyphs">แม่น้ำ</text>
<text class="l" x="919.6" y="682.7" font-size="13.6" fill="#4d4d4d" textLength="75.0" lengthAdjust="spacingAndGlyphs">ขอบเขตจังหวัด</text>
<text class="l" x="919.6" y="706.4" font-size="13.6" fill="#4d4d4d" textLength="73.1" lengthAdjust="spacingAndGlyphs">ขอบเขตอำเภอ</text>
<text class="l" x="919.6" y="729.7" font-size="13.6" fill="#4d4d4d" textLength="41.7" lengthAdjust="spacingAndGlyphs">แหล่งน้ำ</text>
<g transform="translate(927 0)">
<path d="M0 746.2C4.6 753.6 15 760.4 15 771.2A15 13.2 0 0 1 -15 771.2C-15 760.4 -4.6 753.6 0 746.2Z" fill="#fff" stroke="#1C7FA8" stroke-width="1.4" stroke-linejoin="round"/>
<path d="M-13.2 776.2Q-6 772.8 0 776.6T13.2 776.4M-11.8 779.2Q-5 776 0 779.6T11.6 779.4M-9 782Q-4 779.6 0 782.2T8.8 781.8" fill="none" stroke="#1C7FA8" stroke-width=".9"/>
<path d="M-9.4 776L-9.8 771Q-12 765 -9.6 760.8Q-7.4 757.6 -4.8 759.4L-3.2 757.8Q0 756.4 3.2 757.8L4.8 759.4Q7.4 757.6 9.6 760.8Q12 765 9.8 771L9.4 776Z" fill="#F7941D"/>
<path d="M-7.8 775L-8 770.8Q-9.6 765 -7.6 762Q-6 760 -4.4 761.4L-2.6 759.6Q0 758.6 2.6 759.6L4.4 761.4Q6 760 7.6 762Q9.6 765 8 770.8L7.8 775Z" fill="#FFC20E"/>
<path d="M-4.6 761.6L-3.4 768.6M4.6 761.6L3.4 768.6M-2.4 762.4H2.4M-2 765H2M-7 770.4H7M-7 773H7M-1.6 767.6V773M1.6 767.6V773" fill="none" stroke="#F58220" stroke-width=".7"/>
<path d="M-4.2 759.6L-3 767.4M4.2 759.6L3 767.4M-7.6 768.8H-3M3 768.8H7.6" fill="none" stroke="#fff" stroke-width=".8" stroke-opacity=".9"/>
<path d="M-18.5 776.8Q-13 791.5 0 789.6Q13 791.5 18.5 776.8" fill="none" stroke="#4FA8D0" stroke-width="1.7" stroke-dasharray="1.3 .7"/>
</g>
<text class="a" x="905.6" y="808.5" font-size="12.5" font-weight="bold" fill="#222" textLength="43.1" lengthAdjust="spacingAndGlyphs">จัดทำโดย</text>
<text class="a" x="844.4" y="827.9" font-size="12.5" font-weight="bold" fill="#333" textLength="173.6" lengthAdjust="spacingAndGlyphs">สำนักงานทรัพยากรน้ำแห่งชาติภาค 3</text>
</svg></body></html>
